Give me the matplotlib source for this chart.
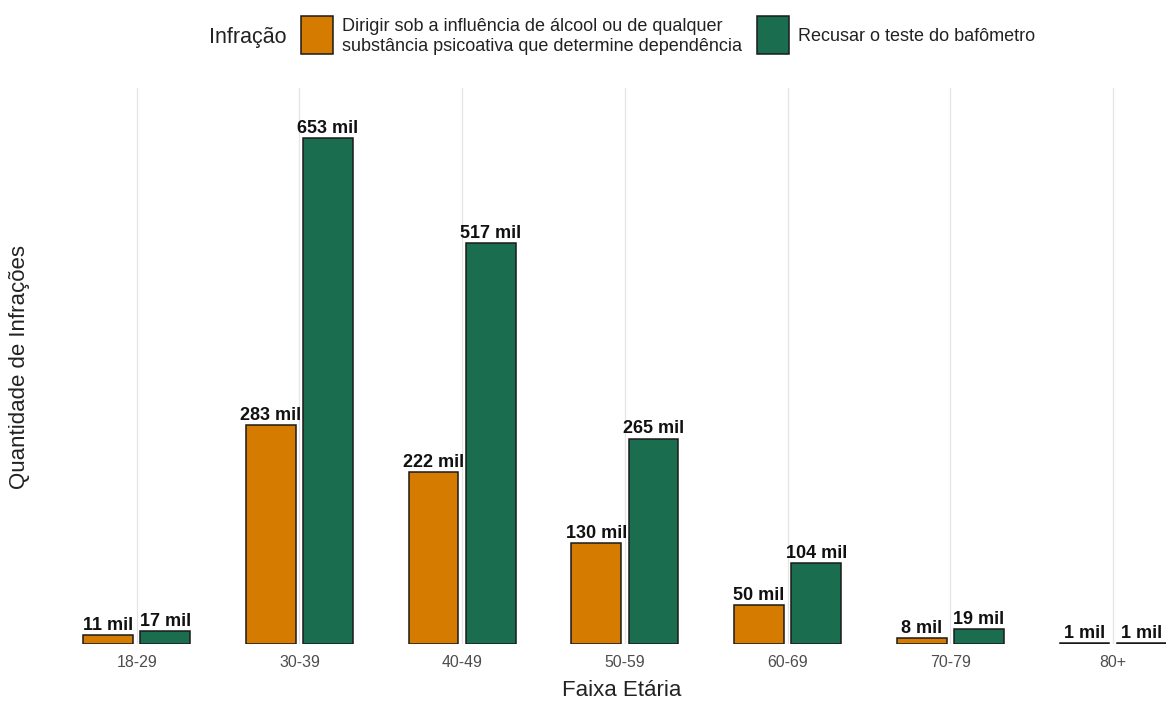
import numpy as np
import matplotlib.pyplot as plt
from matplotlib.patches import Rectangle

plt.rcParams['font.family'] = ['Liberation Sans', 'DejaVu Sans']

# ── Dados (milhares de infrações) ─────────────────────────────────────────────
faixas = ['18-29', '30-39', '40-49', '50-59', '60-69', '70-79', '80+']
dirigir = [11, 283, 222, 130, 50, 8, 1]
recusar = [17, 653, 517, 265, 104, 19, 1]
series = ['Dirigir sob a influência de álcool ou de qualquer\nsubstância psicoativa que determine dependência',
          'Recusar o teste do bafômetro']
cores = ['#D47B00', '#1A6E4F']

W, H = 1166, 702
fig = plt.figure(figsize=(W / 100, H / 100), dpi=100)
ax = fig.add_axes([39 / W, 1 - 644 / H, (W - 39) / W, (644 - 88) / H])

x = np.arange(len(faixas))
larg = 0.305
desl = 0.176
for vals, cor, d in [(dirigir, cores[0], -desl), (recusar, cores[1], desl)]:
    ax.bar(x + d, vals, width=larg, color=cor, edgecolor='#1a1a1a', linewidth=1.1, zorder=3)
    for xi, v in zip(x + d, vals):
        ax.text(xi, v + 1.5, f'{v} mil', ha='center', va='bottom',
                fontsize=13, fontweight='bold', color='#111111', zorder=4)

ax.set_xlim(-0.6, 6 + (W - 1113) / 163)
ax.set_ylim(0, (644 - 88) / 0.775)
ax.set_xticks(x)
ax.set_xticklabels(faixas, fontsize=11.4, color='#4d4d4d')
ax.set_yticks([])
ax.tick_params(axis='x', length=0, pad=8)
ax.grid(axis='x', color='#e5e5e5', linewidth=0.9, zorder=0)
for s in ax.spines.values():
    s.set_visible(False)

# título do eixo x centrado no painel completo (que passa da borda da imagem)
fig.text(622 / W, 1 - 690 / H, 'Faixa Etária', ha='center', va='center',
         fontsize=16, color='#222222')
fig.text(20 / W, 1 - 367 / H, 'Quantidade de Infrações', rotation=90,
         ha='center', va='center', fontsize=16, color='#222222')

# ── Legenda manual no topo ────────────────────────────────────────────────────
fig.text(209 / W, 1 - 37 / H, 'Infração', ha='left', va='center', fontsize=15.5, color='#222222')
for x0, cor, lab in [(301, cores[0], series[0]), (757, cores[1], series[1])]:
    fig.add_artist(Rectangle((x0 / W, 1 - 54 / H), 32 / W, 38 / H, transform=fig.transFigure,
                             facecolor=cor, edgecolor='#1a1a1a', linewidth=1.1))
    fig.text((x0 + 41) / W, 1 - 36.5 / H, lab, ha='left', va='center', fontsize=13,
             color='#222222', linespacing=1.2)

fig.savefig('out.png', dpi=100)
